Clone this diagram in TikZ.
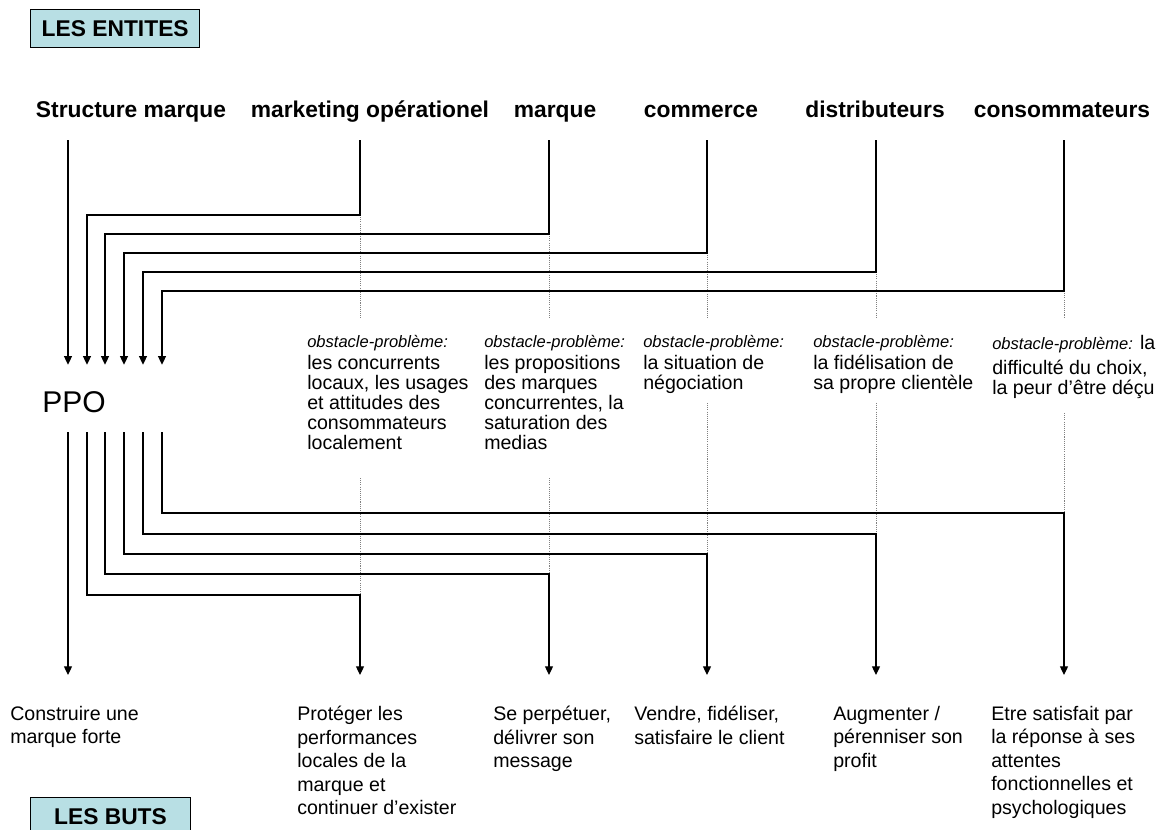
\documentclass[tikz,border=0pt]{standalone}
\usepackage{fontspec}
\setmainfont{Liberation Sans}
\usetikzlibrary{arrows.meta,positioning,calc}
\definecolor{titlecyan}{RGB}{184,223,228}
\newcommand{\obslabel}[1]{{\fontsize{12.4}{15}\selectfont\itshape #1}}

\begin{document}
\begin{tikzpicture}[
  x=0.75pt, y=-0.75pt,
  title/.style={draw, fill=titlecyan, line width=0.8pt, inner sep=0pt,
                minimum height=28.5pt, font=\fontsize{17.1}{20}\selectfont\bfseries},
  entity/.style={anchor=base, inner sep=0pt, font=\fontsize{17.1}{20}\selectfont\bfseries},
  center/.style={anchor=base, inner xsep=0pt, inner ysep=15pt, text height=20.25pt,
                 text depth=0pt, font=\fontsize{22.5}{27}\selectfont},
  obstacle/.style={anchor=north west, inner sep=0pt, align=left,
                   execute at begin node=\rule{0pt}{12pt},
                   font=\fontsize{14.7}{15}\selectfont},
  goal/.style={anchor=north west, inner sep=0pt, align=left,
               execute at begin node=\rule{0pt}{14pt},
               font=\fontsize{14.7}{17.6}\selectfont},
  arrow/.style={-{Triangle[length=6.5pt,width=6pt]}, line width=0.9pt},
  dotline/.style={gray, line width=0.6pt, dash pattern=on 0.8pt off 0.8pt}
]
\clip (0,0) rectangle (1161,829);

% titres
\node[title, minimum width=127pt, anchor=north west] (ent) at (30,9) {LES ENTITES};
\node[title, minimum width=120pt, anchor=north west] (buts) at (30,797) {LES BUTS};

% entites
\node[entity] (sm) at (131,117) {Structure marque};
\node[entity] (mo) at (370,117) {marketing opérationel};
\node[entity] (mq) at (555,117) {marque};
\node[entity] (co) at (701,117) {commerce};
\node[entity] (di) at (875,117) {distributeurs};
\node[entity] (cs) at (1062,117) {consommateurs};

\node[center] (ppo) at (74,412) {PPO};

% obstacles
\node[obstacle] (ob-mo) at (307,335)
  {\obslabel{obstacle-problème:}\\[1.5pt]les concurrents\\locaux, les usages\\
   et attitudes des\\consommateurs\\localement};
\node[obstacle] (ob-mq) at (484,335)
  {\obslabel{obstacle-problème:}\\[1.5pt]les propositions\\des marques\\
   concurrentes, la\\saturation des\\medias};
\node[obstacle] (ob-co) at (643,335)
  {\obslabel{obstacle-problème:}\\[1.5pt]la situation de\\négociation};
\node[obstacle] (ob-di) at (813,335)
  {\obslabel{obstacle-problème:}\\[1.5pt]la fidélisation de\\sa propre clientèle};
\node[obstacle] (ob-cs) at (992,335)
  {\obslabel{obstacle-problème:} la\\[3.75pt]difficulté du choix,\\la peur d’être déçu};

% buts
\node[goal] (g-sm) at (10,706) {Construire une\\marque forte};
\node[goal] (g-mo) at (297,706)
  {Protéger les\\performances\\locales de la\\marque et\\continuer d’exister};
\node[goal] (g-mq) at (493,706) {Se perpétuer,\\délivrer son\\message};
\node[goal] (g-co) at (634,706) {Vendre, fidéliser,\\satisfaire le client};
\node[goal] (g-di) at (833,706) {Augmenter /\\pérenniser son\\profit};
\node[goal] (g-cs) at (991,706)
  {Etre satisfait par\\la réponse à ses\\attentes\\fonctionnelles et\\psychologiques};

% points de passage
\coordinate (sm-t) at (68,140);
\coordinate (mo-t) at (360,140);
\coordinate (mq-t) at (549,140);
\coordinate (co-t) at (707,140);
\coordinate (di-t) at (876,140);
\coordinate (cs-t) at (1064,140);
\coordinate (mo-j) at (360,215);
\coordinate (mq-j) at (549,234);
\coordinate (co-j) at (707,253);
\coordinate (di-j) at (876,272);
\coordinate (cs-j) at (1064,291);
\coordinate (mo-r) at (360,478);
\coordinate (mq-r) at (549,478);
\coordinate (co-r) at (707,403);
\coordinate (di-r) at (876,403);
\coordinate (cs-r) at (1064,413);
\coordinate (mo-k) at (360,595);
\coordinate (mq-k) at (549,574);
\coordinate (co-k) at (707,554);
\coordinate (di-k) at (876,534);
\coordinate (cs-k) at (1064,513);
\coordinate (cut) at (0,318);
\coordinate (tips) at (0,675);
\coordinate (in1) at ($(ppo.north)+(13,0)$);
\coordinate (in2) at ($(ppo.north)+(31,0)$);
\coordinate (in3) at ($(ppo.north)+(50,0)$);
\coordinate (in4) at ($(ppo.north)+(69,0)$);
\coordinate (in5) at ($(ppo.north)+(88,0)$);
\coordinate (out1) at ($(ppo.south)+(13,0)$);
\coordinate (out2) at ($(ppo.south)+(31,0)$);
\coordinate (out3) at ($(ppo.south)+(50,0)$);
\coordinate (out4) at ($(ppo.south)+(69,0)$);
\coordinate (out5) at ($(ppo.south)+(88,0)$);

% pointilles
\draw[dotline] (mo-j) -- (mo-j |- cut);
\draw[dotline] (mq-j) -- (mq-j |- cut);
\draw[dotline] (co-j) -- (co-j |- cut);
\draw[dotline] (di-j) -- (di-j |- cut);
\draw[dotline] (cs-j) -- (cs-j |- cut);
\draw[dotline] (mo-r) -- (mo-k);
\draw[dotline] (mq-r) -- (mq-k);
\draw[dotline] (co-r) -- (co-k);
\draw[dotline] (di-r) -- (di-k);
\draw[dotline] (cs-r) -- (cs-k);

% entites -> PPO
\draw[arrow] (sm-t) -- (sm-t |- ppo.north);
\draw[arrow] (mo-t) -- (mo-j) -| (in1);
\draw[arrow] (mq-t) -- (mq-j) -| (in2);
\draw[arrow] (co-t) -- (co-j) -| (in3);
\draw[arrow] (di-t) -- (di-j) -| (in4);
\draw[arrow] (cs-t) -- (cs-j) -| (in5);

% PPO -> buts
\draw[arrow] (sm-t |- ppo.south) -- (sm-t |- tips);
\draw[arrow] (out1) |- (mo-k) -- (mo-k |- tips);
\draw[arrow] (out2) |- (mq-k) -- (mq-k |- tips);
\draw[arrow] (out3) |- (co-k) -- (co-k |- tips);
\draw[arrow] (out4) |- (di-k) -- (di-k |- tips);
\draw[arrow] (out5) |- (cs-k) -- (cs-k |- tips);
\end{tikzpicture}
\end{document}
